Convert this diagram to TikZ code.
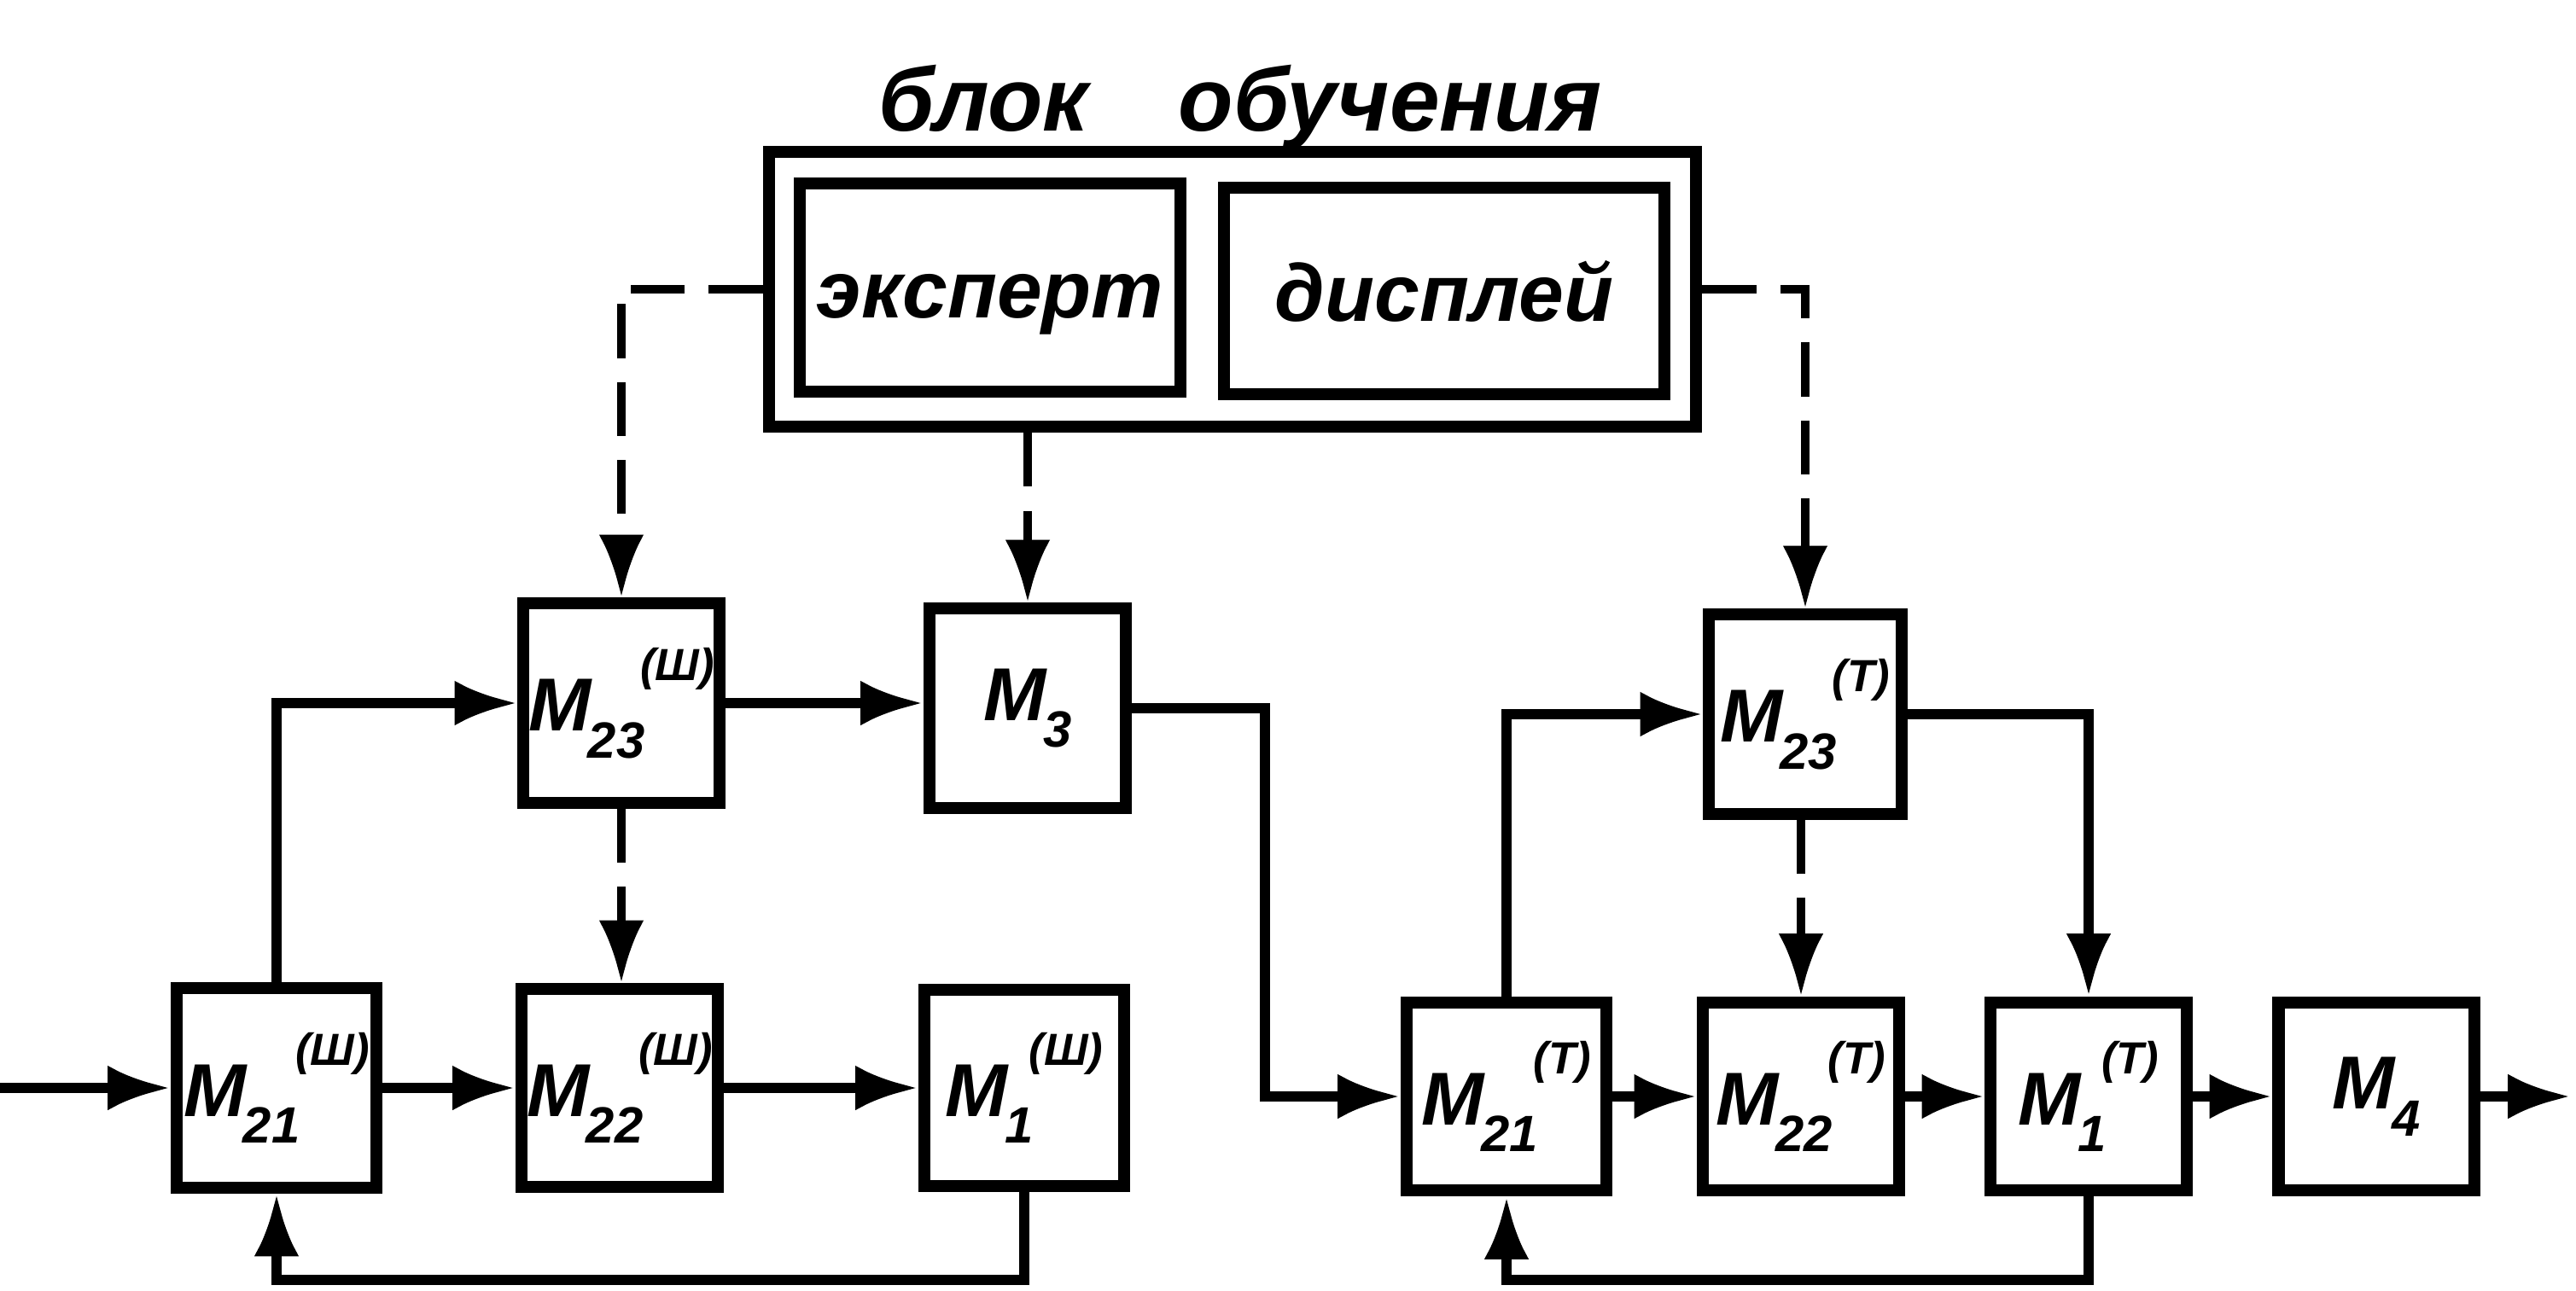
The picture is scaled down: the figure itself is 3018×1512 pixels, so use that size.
\documentclass[tikz,border=0pt]{standalone}
\usepackage{fontspec}
\setmainfont{Liberation Sans}
\usetikzlibrary{arrows.meta}
\newcommand\ml[2]{\fontsize{25}{25}\selectfont M\kern-0.04em\raisebox{-9pt}{\fontsize{17}{17}\selectfont #1}\kern-0.06em\raisebox{17pt}{\fontsize{15}{15}\selectfont #2}}
\newcommand\mm[1]{\fontsize{25}{25}\selectfont M\kern-0.04em\raisebox{-9pt}{\fontsize{17}{17}\selectfont #1}}
\tikzset{
  blk/.style={draw, line width=4pt, inner sep=0pt, font=\bfseries\itshape},
  conn/.style={line width=3.5pt},
  arr/.style={conn, -{Latex[length=21pt,width=15pt]}},
  dsh/.style={line width=3pt, dash pattern=on 18pt off 8pt},
  darr/.style={dsh, -{Latex[length=21pt,width=15pt]}},
  lbl/.style={font=\bfseries\itshape\fontsize{27}{27}\selectfont, text height=20pt, text depth=0pt}
}
\begin{document}
\begin{tikzpicture}[x=0.01cm, y=-0.01cm]
\useasboundingbox[fill=white] (0,0) rectangle (3018,1512);

% title and training block
\node[font=\bfseries\itshape\fontsize{30}{30}\selectfont] (title) at (1453,126) {блок\hspace{1.0em}обучения};
\node[blk, minimum width=10.86cm, minimum height=3.22cm] (train) at (1444,339) {};
\node[blk, lbl, minimum width=4.45cm, minimum height=2.43cm] (expert) at (1160,337) {эксперт};
\node[blk, lbl, minimum width=5.16cm, minimum height=2.42cm] (display) at (1692,341) {дисплей};

% left group
\node[blk, minimum width=2.34cm, minimum height=2.33cm] (m21a) at (324,1275) {\ml{21}{(Ш)}};
\node[blk, minimum width=2.30cm, minimum height=2.31cm] (m22a) at (726,1275) {\ml{22}{(Ш)}};
\node[blk, minimum width=2.34cm, minimum height=2.30cm] (m1a) at (1200,1275) {\ml{1}{(Ш)}};
\node[blk, minimum width=2.29cm, minimum height=2.33cm] (m23a) at (728,824) {\ml{23}{(Ш)}};
\node[blk, minimum width=2.30cm, minimum height=2.33cm] (m3) at (1204,830) {\mm{3}};

% right group
\node[blk, minimum width=2.34cm, minimum height=2.20cm] (m21b) at (1765,1285) {\ml{21}{(Т)}};
\node[blk, minimum width=2.29cm, minimum height=2.20cm] (m22b) at (2110,1285) {\ml{22}{(Т)}};
\node[blk, minimum width=2.29cm, minimum height=2.20cm] (m1b) at (2447,1285) {\ml{1}{(Т)}};
\node[blk, minimum width=2.29cm, minimum height=2.20cm] (m4) at (2784,1285) {\mm{4}};
\node[blk, minimum width=2.25cm, minimum height=2.33cm] (m23b) at (2115,837) {\ml{23}{(Т)}};

\coordinate (in) at (0,1275);
\coordinate (out) at (3012,1285);
\coordinate (bot) at (0,1500);
\coordinate (j1) at (1482,830);

% dashed links from training block
\draw[darr] (train.west) -| (m23a.north);
\draw[darr] (m3.north |- train.south) -- (m3.north);
\draw[darr] (train.east) -| (m23b.north);
\draw[darr] (m23a.south) -- (m23a.south |- m22a.north);
\draw[darr] (m22b.north |- m23b.south) -- (m22b.north);

% left group connections
\draw[arr] (in) -- (m21a.west);
\draw[arr] (m21a) -- (m22a);
\draw[arr] (m22a) -- (m1a);
\draw[arr] (m21a.north) |- (m23a.west);
\draw[arr] (m23a.east) -- (m3.west |- m23a.east);
\draw[arr] (m1a.south) -- (m1a.south |- bot) -| (m21a.south);
\draw[arr] (m3.east) -- (j1) |- (m21b.west);

% right group connections
\draw[arr] (m21b) -- (m22b);
\draw[arr] (m22b) -- (m1b);
\draw[arr] (m1b) -- (m4);
\draw[arr] (m4.east) -- (out);
\draw[arr] (m21b.north) |- (m23b.west);
\draw[arr] (m23b.east) -| (m1b.north);
\draw[arr] (m1b.south) -- (m1b.south |- bot) -| (m21b.south);
\end{tikzpicture}
\end{document}
